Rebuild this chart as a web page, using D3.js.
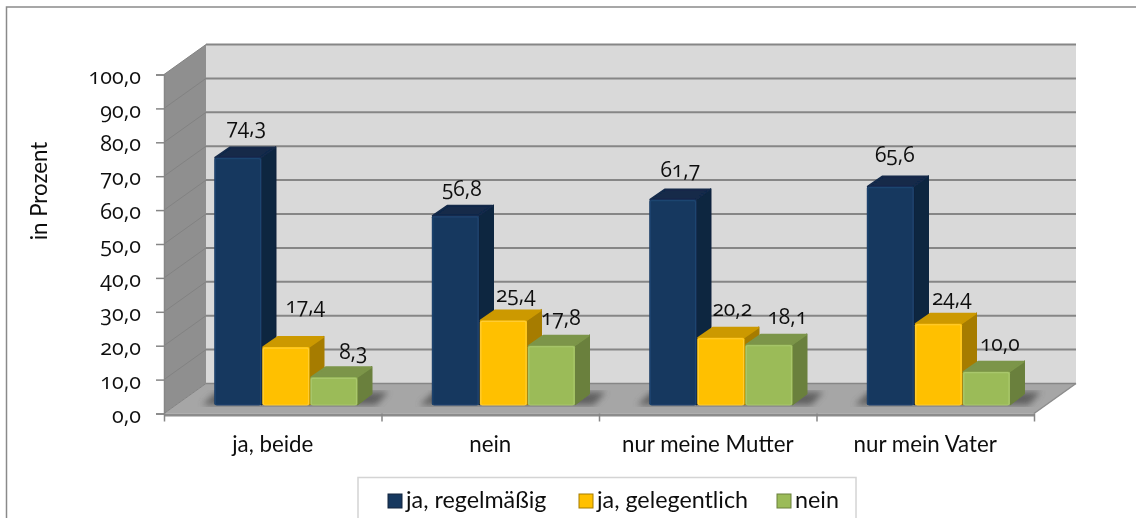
<!DOCTYPE html>
<html>
<head>
<meta charset="utf-8">
<title>in Prozent</title>
<script src="https://cdnjs.cloudflare.com/ajax/libs/d3/7.8.5/d3.min.js"></script>
<style>
  html, body { margin: 0; padding: 0; background: #fff; overflow: hidden; }
  text { font-family: Lato, "Open Sans", sans-serif; fill: #111; }
  text.num { font-family: "Open Sans", sans-serif; font-feature-settings: "onum" 1; }
</style>
</head>
<body>
<div id="chart"></div>
<script>
const categories = ['ja, beide', 'nein', 'nur meine Mutter', 'nur mein Vater'];
const seriesNames = ['ja, regelmäßig', 'ja, gelegentlich', 'nein'];
const regelmaessig = [74.3, 56.8, 61.7, 65.6];
const gelegentlich = [17.4, 25.4, 20.2, 24.4];
const nein = [8.3, 17.8, 18.1, 10.0];
const yTicks = [0, 10, 20, 30, 40, 50, 60, 70, 80, 90, 100];

// label offsets from the bar's top front centre, the original has them hand placed
const labelDx = [[8, 6, 7, 4], [19, 12, 11, 13], [19, 9, 18, 13]];
const labelDy = [[-24, -20, -23, -25], [-34, -18, -22, -19], [-18, -21, -21, -21]];

const W = 1136, H = 518;
const deepX = 42, deepY = -30;     // wall offset
const barDx = 14.5, barDy = -11;   // bar depth
const fmt = v => v.toFixed(1).replace('.', ',');

const svg = d3.select('#chart').append('svg').attr('width', W).attr('height', H);
const defs = svg.append('defs');
defs.append('filter').attr('id', 'soft').attr('x', '-30%').attr('width', '160%')
  .append('feGaussianBlur').attr('stdDeviation', 3);
defs.append('filter').attr('id', 'scan')
  .attr('filterUnits', 'userSpaceOnUse').attr('x', 0).attr('y', 0).attr('width', W).attr('height', H)
  .append('feGaussianBlur').attr('stdDeviation', 0.45);

const root = svg.append('g').attr('filter', 'url(#scan)');

// chart frame
root.append('rect').attr('x', 6.5).attr('y', 7).attr('width', W).attr('height', H)
  .attr('fill', '#fff').attr('stroke', '#8a8a8a').attr('stroke-width', 1.5);

const x = d3.scaleBand().domain(categories).range([164, 1034]);
const y = d3.scaleLinear().domain([0, 100]).range([413.5, 74.5]);
const barY = d3.scaleLinear().domain([0, 100]).range([405, 72]);
const inner = d3.scaleBand().domain(d3.range(3)).range([0, 144]);

const line = d3.line();
const poly = pts => line(pts) + 'Z';

// back wall, side wall, floor
root.append('rect').attr('x', x.range()[0] + deepX).attr('y', y(100) + deepY)
  .attr('width', x.range()[1] - x.range()[0]).attr('height', y(0) - y(100))
  .attr('fill', '#d9d9d9');
root.append('path').attr('fill', '#8f8f8f').attr('d', poly([
  [164, y(0)], [164, y(100)], [164 + deepX, y(100) + deepY], [164 + deepX, y(0) + deepY]
]));
root.append('path').attr('fill', '#a6a6a6').attr('d', poly([
  [164, y(0)], [1034, y(0)], [1034 + deepX, y(0) + deepY], [164 + deepX, y(0) + deepY]
]));
root.append('rect').attr('x', 164).attr('y', y(0)).attr('width', 870).attr('height', 3).attr('fill', '#8c8c8c');

// gridlines
const grid = root.append('g').attr('fill', 'none').attr('stroke', '#868686');
yTicks.forEach(t => {
  grid.append('path').attr('stroke-width', t ? 2 : 1.5).attr('d', line([
    [164 + deepX, y(t) + deepY], [1034 + deepX, y(t) + deepY]
  ]));
  grid.append('path').attr('stroke', '#828282').attr('stroke-width', 1).attr('d', line([
    [164, y(t)], [164 + deepX, y(t) + deepY]
  ]));
});
root.append('path').attr('fill', 'none').attr('stroke', '#8c8c8c').attr('stroke-width', 1.5)
  .attr('d', line([[1034, y(0)], [1034 + deepX, y(0) + deepY]]));

// axes
const axisY = d3.axisLeft(y).tickValues(yTicks).tickSize(8).tickFormat(fmt);
const gy = root.append('g').attr('transform', 'translate(164,0)').call(axisY);
gy.select('.domain').attr('stroke', '#868686').attr('stroke-width', 1.5);
gy.selectAll('.tick line').attr('stroke', '#868686').attr('stroke-width', 1.5);
gy.selectAll('text').attr('class', 'num').attr('font-size', 21.5).attr('x', -23).attr('dy', '0.4em').attr('fill', '#111');

const axisX = d3.axisBottom(d3.scaleLinear().domain([0, 4]).range(x.range()))
  .tickValues(d3.range(5)).tickSize(8).tickFormat('');
const gx = root.append('g').attr('transform', `translate(0,${y(0)})`).call(axisX);
gx.select('.domain').remove();
gx.selectAll('.tick line').attr('stroke', '#868686').attr('stroke-width', 1.5);

root.append('g').selectAll('text').data(categories).join('text')
  .attr('x', d => x(d) + x.bandwidth() / 2).attr('y', 452)
  .attr('text-anchor', 'middle').attr('font-size', 22.3).text(d => d);

root.append('text').attr('transform', 'translate(47,191) rotate(-90)')
  .attr('text-anchor', 'middle').attr('font-size', 22.3).text('in Prozent');

// bars
const palette = [
  { front: '#17375e', edge: '#1f4570', side: '#10253f', top: '#12294a' },
  { front: '#ffc000', edge: '#ffcc33', side: '#a67c00', top: '#cc9900' },
  { front: '#9bbb59', edge: '#a9c76c', side: '#6a803c', top: '#7b9548' }
];
const values = [regelmaessig, gelegentlich, nein];

const groupOffset = 50.3;
// floor shadows first, so every bar sits on top
categories.forEach(c => {
  const x0 = x(c) + groupOffset;
  root.append('path').attr('fill', '#555').attr('opacity', 0.85).attr('filter', 'url(#soft)').attr('d', poly([
    [x0 - 12, 405], [x0 + 144 + 18, 405], [x0 + 144 + 30, 392], [x0 + 2, 392]
  ]));
});
values.forEach((vals, j) => {
  const col = palette[j];
  vals.forEach((v, i) => {
    const x0 = x(categories[i]) + groupOffset + inner(j);
    const x1 = x0 + inner.bandwidth() - 0.8;
    const yt = barY(v), yb = barY(0);
    const g = root.append('g').attr('stroke-linejoin', 'round');
    g.append('path').attr('fill', col.side).attr('stroke', col.side).attr('stroke-width', 1).attr('d', poly([
      [x1, yb], [x1, yt], [x1 + barDx, yt + barDy], [x1 + barDx, yb + barDy]
    ]));
    g.append('path').attr('fill', col.top).attr('stroke', col.top).attr('stroke-width', 2).attr('d', poly([
      [x0 + 1, yt], [x1 - 1, yt], [x1 + barDx - 1, yt + barDy + 1], [x0 + barDx + 1, yt + barDy + 1]
    ]));
    g.append('rect').attr('x', x0).attr('y', yt).attr('width', x1 - x0).attr('height', yb - yt)
      .attr('rx', 1.5).attr('fill', col.front);
    g.append('rect').attr('x', x0 + 1).attr('y', yt + 1).attr('width', x1 - x0 - 2).attr('height', yb - yt - 1)
      .attr('rx', 1.5).attr('fill', 'none').attr('stroke', col.edge).attr('stroke-width', 1.2);
  });
});

// value labels over everything
values.forEach((vals, j) => {
  vals.forEach((v, i) => {
    root.append('text').attr('class', 'num')
      .attr('x', x(categories[i]) + groupOffset + inner(j) + inner.bandwidth() / 2 + labelDx[j][i])
      .attr('y', barY(v) + labelDy[j][i])
      .attr('text-anchor', 'middle').attr('font-size', 21).text(fmt(v));
  });
});

// legend
const legend = root.append('g');
legend.append('rect').attr('x', 358).attr('y', 477.5).attr('width', 498).attr('height', 50)
  .attr('fill', '#fff').attr('stroke', '#d4d4d4').attr('stroke-width', 1.5);
const legendX = [388, 579, 777];
seriesNames.forEach((s, j) => {
  legend.append('rect').attr('x', legendX[j]).attr('y', 494).attr('width', 14).attr('height', 14)
    .attr('fill', palette[j].front).attr('stroke', palette[j].side).attr('stroke-width', 1);
  legend.append('text').attr('x', legendX[j] + 18).attr('y', 508).attr('font-size', 23.3).text(s);
});
</script>
</body>
</html>
